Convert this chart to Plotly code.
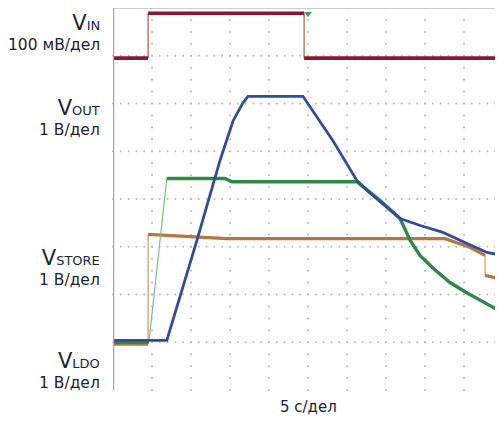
import plotly.graph_objects as go
import numpy as np

# ---- data (time in divisions, 5 s/div; amplitude in divisions) ----
vin_t = [0.0, 0.90, 0.90, 4.90, 4.90, 10.0]
vin_v = [6.95, 6.95, 7.89, 7.89, 6.95, 6.95]

vout_t = [0.0, 1.38, 2.15, 2.74, 3.08, 3.33, 3.46, 4.87, 5.64, 6.26, 6.51, 6.92,
          7.36, 7.90, 8.46, 9.08, 9.59, 9.97]
vout_v = [1.04, 1.04, 3.13, 4.80, 5.64, 6.01, 6.15, 6.15, 5.22, 4.38, 4.18, 3.90,
          3.59, 3.44, 3.30, 3.07, 2.88, 2.82]

vldo_t = [0.0, 0.92, 1.38, 2.87, 3.05, 6.26, 6.85, 7.36, 7.62, 7.87, 8.21, 8.64,
          9.08, 9.49, 9.97]
vldo_v = [1.00, 1.00, 4.43, 4.43, 4.36, 4.36, 3.97, 3.59, 3.13, 2.82, 2.55, 2.25,
          2.03, 1.84, 1.63]

vstore_t = [0.0, 0.90, 0.90, 1.97, 2.92, 8.51, 9.15, 9.54, 9.54, 9.97]
vstore_v = [0.96, 0.96, 3.26, 3.22, 3.17, 3.17, 2.99, 2.82, 2.40, 2.32]

trigger_t = [5.0]
trigger_v = [7.88]

# channel labels: (main letter, subscript, scale, vertical centre in divisions)
channels = [
    ("V", "IN", "100 мВ/дел", 7.49),
    ("V", "OUT", "1 В/дел", 5.71),
    ("V", "STORE", "1 В/дел", 2.57),
    ("V", "LDO", "1 В/дел", 0.40),
]
xlabel = "5 с/дел"

XDIV, YDIV = 10, 8
# page body has an 8px margin, so the figure is sized to fit the window
W, H = 495, 416
ML, MT, MB = 105, 0, 34
pxx = (W - ML) / XDIV
pxy = (H - MT - MB) / YDIV

fig = go.Figure()

# grid dots
gx, gy = [], []
for k in range(1, YDIV):
    for s in np.arange(0, XDIV + 1e-9, 0.2):
        gx.append(s); gy.append(k)
for k in range(1, XDIV):
    for s in np.arange(0, YDIV + 1e-9, 0.25):
        gx.append(k); gy.append(s)
fig.add_trace(go.Scatter(x=gx, y=gy, mode="markers",
                         marker=dict(size=2, color="#b8b8b8"),
                         hoverinfo="skip", showlegend=False, cliponaxis=False))


def add_series(t, v, color, thin_color, width, thin_width=1.2):
    # thin trace for fast edges, thick for the rest
    thick_x, thick_y, thin_x, thin_y = [], [], [], []
    for i in range(len(t) - 1):
        dx = (t[i + 1] - t[i]) * pxx
        dy = abs(v[i + 1] - v[i]) * pxy
        steep = dx == 0 or dy / dx > 5
        if steep:
            thin_x += [t[i], t[i + 1], None]
            thin_y += [v[i], v[i + 1], None]
        else:
            if len(thick_x) >= 2 and thick_x[-2] == t[i] and thick_y[-2] == v[i]:
                thick_x.pop(); thick_y.pop()
                thick_x += [t[i + 1], None]
                thick_y += [v[i + 1], None]
            else:
                thick_x += [t[i], t[i + 1], None]
                thick_y += [v[i], v[i + 1], None]
    if thin_x:
        fig.add_trace(go.Scatter(x=thin_x, y=thin_y, mode="lines",
                                 line=dict(color=thin_color, width=thin_width),
                                 hoverinfo="skip", showlegend=False))
    fig.add_trace(go.Scatter(x=thick_x, y=thick_y, mode="lines",
                             line=dict(color=color, width=width),
                             hoverinfo="skip", showlegend=False))


add_series(vin_t, vin_v, "#8E1630", "#A8564A", 3.6)
add_series(vstore_t, vstore_v, "#B5773C", "#C99A6B", 3.2)
add_series(vldo_t, vldo_v, "#2C8A45", "#7DBB8A", 3.4)
add_series(vout_t, vout_v, "#2F4C9F", "#2F4C9F", 2.8)

fig.add_trace(go.Scatter(x=trigger_t, y=trigger_v, mode="markers",
                         marker=dict(symbol="triangle-down", size=7, color="#3FA062"),
                         hoverinfo="skip", showlegend=False))

FONT = "DejaVu Sans, Liberation Sans, sans-serif"
for main, sub, scale, yc in channels:
    txt = (f"<span style='font-size:21px'>{main}</span>"
           f"<span style='font-size:13px'>{sub}</span><br>{scale}")
    fig.add_annotation(x=0, xref="paper", y=yc, yref="y", text=txt,
                       xanchor="right", yanchor="middle", align="right", xshift=-11,
                       showarrow=False, font=dict(family=FONT, size=15.5, color="#1E2338"))

fig.add_annotation(x=5, xref="x", y=0, yref="y", text=xlabel, xanchor="center",
                   yanchor="middle", yshift=-17, showarrow=False,
                   font=dict(family=FONT, size=15, color="#1E2338"))

# frame
fig.add_shape(type="line", xref="x", yref="y", x0=0, x1=0, y0=0, y1=YDIV,
              line=dict(color="#a8a8a8", width=2.5))
fig.add_shape(type="line", xref="x", yref="y", x0=0, x1=XDIV, y0=YDIV, y1=YDIV,
              line=dict(color="#bdbdbd", width=1.5))

fig.update_xaxes(range=[0, XDIV], showgrid=False, zeroline=False, showticklabels=False,
                 ticks="", showline=False, fixedrange=True)
fig.update_yaxes(range=[0, YDIV], showgrid=False, zeroline=False, showticklabels=False,
                 ticks="", showline=False, fixedrange=True)
fig.update_layout(width=W, height=H, margin=dict(l=ML, r=0, t=MT, b=MB),
                  plot_bgcolor="white", paper_bgcolor="white", showlegend=False)

fig.write_html("out.html")
